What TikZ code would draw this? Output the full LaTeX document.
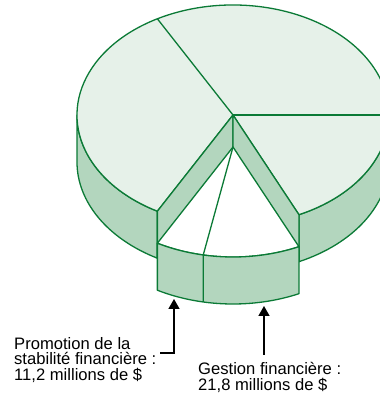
\documentclass[tikz,border=0pt]{standalone}
\usepackage{fontspec}
\setmainfont{Liberation Sans}
\usetikzlibrary{arrows.meta,calc}
\definecolor{topfill}{HTML}{E6F1E9}
\definecolor{sidefill}{HTML}{B3D6BE}
\definecolor{pieline}{HTML}{0B7A36}
\begin{document}
\begin{tikzpicture}[x=1pt,y=1pt,
  face/.style={draw=pieline,line width=1.3pt,line join=round},
  topface/.style={face,fill=topfill},
  sideface/.style={face,fill=sidefill},
  hole/.style={face,fill=white},
  ell/.style={x radius=156pt,y radius=110pt},
  lbl/.style={font=\fontsize{16.6}{16}\selectfont,align=left,inner sep=0pt,anchor=base west},
  arr/.style={line width=1.5pt,-{Triangle[width=11pt,length=10pt]}}]
\useasboundingbox (0,0) rectangle (380,394);
\clip (0,0) rectangle (380,394);
% key points of the top face
\coordinate (C) at (233,279);
\coordinate (P180) at ({233+156*cos(180)},{279+110*sin(180)});
\coordinate (P241) at ({233+156*cos(241)},{279+110*sin(241)});
\coordinate (P295) at ({233+156*cos(295)},{279+110*sin(295)});
\coordinate (P119) at ({233+156*cos(119)},{279+110*sin(119)});
\coordinate (P0) at ({233+156},{279});
% exploded slice (shifted down)
\coordinate (Cx) at (233,247);
\coordinate (Q241) at ({233+156*cos(241)},{247+110*sin(241)});
\coordinate (Q259) at ({233+156*cos(259)},{247+110*sin(259)});
\coordinate (Q295) at ({233+156*cos(295)},{247+110*sin(295)});
% outer walls of the main body
\draw[sideface] (P180) arc[ell,start angle=180,end angle=241] -- ++(0,-47)
  arc[ell,start angle=241,end angle=180] -- cycle;
\draw[sideface] (P295) arc[ell,start angle=295,end angle=360] -- ++(0,-47)
  arc[ell,start angle=360,end angle=295] -- cycle;
% top face of the main body
\draw[topface] (C) -- (P295) arc[ell,start angle=295,end angle=601] -- cycle;
\draw[face] (C) -- (P119);
\draw[face] (C) -- (P0);
% radial walls of the cut
\draw[sideface] (C) -- (P241) -- ++(0,-47) -- ($(C)+(0,-47)$) -- cycle;
\draw[sideface] (C) -- (P295) -- ++(0,-47) -- ($(C)+(0,-47)$) -- cycle;
% exploded slice
\draw[hole] (Cx) -- (Q241) arc[ell,start angle=241,end angle=295] -- cycle;
\draw[sideface] (Q241) arc[ell,start angle=241,end angle=295] -- ++(0,-47)
  arc[ell,start angle=295,end angle=241] -- cycle;
\draw[face] (Cx) -- (Q259) -- ++(0,-47);
% labels
\node[lbl] (promo) at (14,13) {Promotion de la\\stabilité financière :\\11,2 millions de \$};
\node[lbl] (gest) at (198,4) {Gestion financière :\\21,8 millions de \$};
\coordinate (pa) at (160,41);
\coordinate (pb) at (174,41);
\coordinate (pt) at (174,95);
\coordinate (ga) at (264,39);
\coordinate (gt) at (264,88);
\draw[arr] (pa) -- (pb) -- (pt);
\draw[arr] (ga) -- (gt);
\end{tikzpicture}
\end{document}
